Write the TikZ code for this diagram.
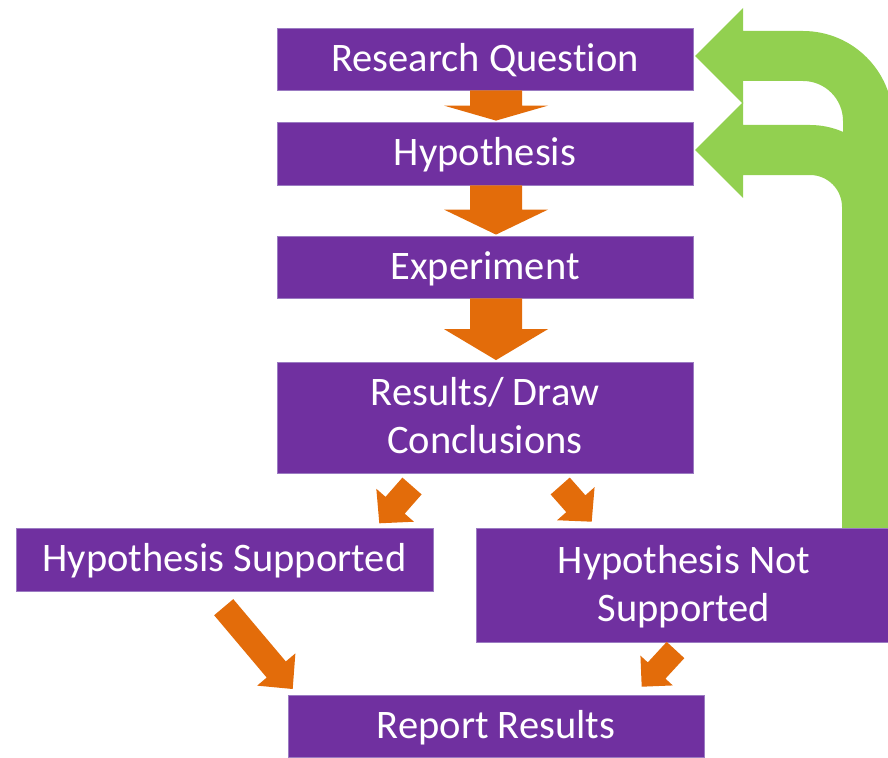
\documentclass[tikz,border=0pt]{standalone}
\usepackage{fontspec}
\setmainfont{Carlito}[Ligatures={NoCommon,NoContextual}]
\usetikzlibrary{calc}
\definecolor{boxpurple}{HTML}{7030A0}
\definecolor{boxline}{HTML}{9B7BC2}
\definecolor{arroworange}{HTML}{E36C0A}
\definecolor{loopgreen}{HTML}{92D050}
% tail, tip, shaft half width, head half width, head length
\newcommand\blockarrow[5]{%
  \coordinate (ba-t) at #1;
  \coordinate (ba-p) at #2;
  \coordinate (ba-h) at ($(ba-p)!#5!(ba-t)$);
  \fill[arroworange] ($(ba-t)!#3!90:(ba-p)$) -- ($(ba-h)!#3!90:(ba-p)$)
    -- ($(ba-h)!#4!90:(ba-p)$) -- (ba-p) -- ($(ba-h)!#4!-90:(ba-p)$)
    -- ($(ba-h)!#3!-90:(ba-p)$) -- ($(ba-t)!#3!-90:(ba-p)$) -- cycle;}
\newcommand\twoline[2]{\vbox{\hbox to 400pt{\hfil#1\hfil}\hbox to 400pt{\hfil#2\hfil}}}
\tikzset{
  box/.style={fill=boxpurple, draw=boxline, line width=0.8pt, text=white,
    inner sep=0pt, minimum width=416pt, text height=24.5pt, text depth=0pt,
    font=\fontsize{40.5}{48}\selectfont},
  twobox/.style={box, text height=72.5pt}
}
\begin{document}
\begin{tikzpicture}[x=1pt,y=-1pt]
\useasboundingbox (0,0) rectangle (888,757);
\fill[white] (0,0) rectangle (888,757);
\clip (0,0) rectangle (888,757);

% green feedback arrows
\fill[loopgreen] (695,56) -- (743,8) -- (743,31) -- (803,31)
  .. controls (852.7,31) and (893,71.3) .. (893,121) -- (893,528) -- (843,528)
  -- (843,121) .. controls (843,98.9) and (825.1,81) .. (803,81)
  -- (743,81) -- (743,104) -- cycle;
\fill[loopgreen] (695,150) -- (743,102) -- (743,125) -- (810,125)
  .. controls (855.3,125) and (892,161.7) .. (892,207) -- (892,528) -- (842,528)
  -- (842,207) .. controls (842,189.3) and (827.7,175) .. (810,175)
  -- (743,175) -- (743,198) -- cycle;

% boxes
\node[box, minimum height=62pt] (rq) at (485,59) {Research Question};
\node[box, minimum height=63pt] (hyp) at (485,153.5) {Hypothesis};
\node[box, minimum height=62pt] (exp) at (485,267) {Experiment};
\node[twobox, minimum height=111pt] (res) at (485,417.5) {\twoline{Results/ Draw}{Conclusions}};
\node[box, minimum height=63pt, minimum width=417pt] (hs) at (224.5,559.5) {Hypothesis Supported};
\node[twobox, minimum height=114pt] (hns) at (684,585) {\twoline{Hypothesis Not}{Supported}};
\node[box, minimum height=62pt] (rr) at (496,726) {Report Results};

% orange block arrows
\blockarrow{($(rq.south)+(11,0)$)}{($(hyp.north)+(11,-1)$)}{26pt}{52pt}{15pt}
\blockarrow{($(hyp.south)+(11,0)$)}{($(exp.north)+(11,-1)$)}{26pt}{52pt}{25pt}
\blockarrow{($(exp.south)+(11,0)$)}{($(res.north)+(11,-1.5)$)}{26pt}{52pt}{31pt}
\blockarrow{(412,486)}{(379.3,523.3)}{12.75pt}{25pt}{24pt}
\blockarrow{(560.2,486)}{(591.7,521.7)}{12.75pt}{25pt}{24pt}
\blockarrow{(223.7,607.2)}{(292.7,689)}{12.5pt}{25pt}{25.5pt}
\blockarrow{(675.5,650)}{(641.7,686.7)}{12pt}{22pt}{22pt}
\end{tikzpicture}
\end{document}
